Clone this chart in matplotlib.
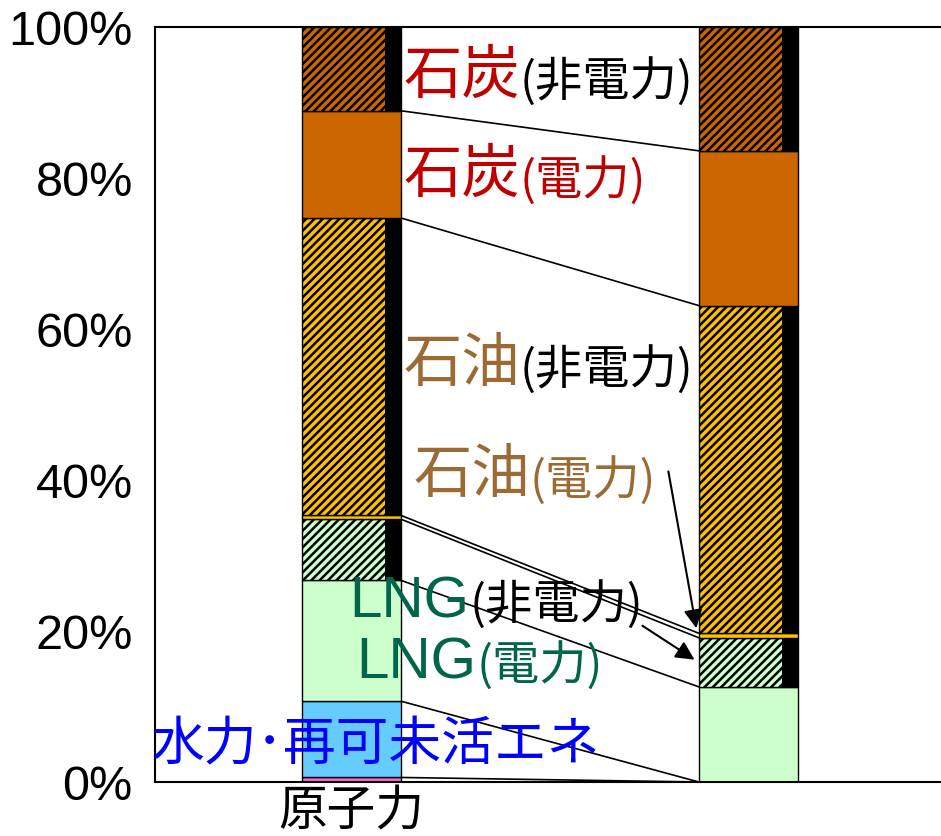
import matplotlib
matplotlib.use("Agg")
import matplotlib.pyplot as plt

plt.rcParams['font.family'] = ['Noto Sans CJK JP', 'DejaVu Sans']
plt.rcParams['hatch.linewidth'] = 1.8

# shares (%) of each block, bottom to top, for the two columns
segments = ['原子力', '水力・再可未活エネ', 'LNG(電力)', 'LNG(非電力)',
            '石油(電力)', '石油(非電力)', '石炭(電力)', '石炭(非電力)']
left_share = [0.6, 10.1, 16.0, 8.1, 0.5, 39.4, 14.2, 11.1]
right_share = [0.0, 0.0, 12.6, 6.5, 0.6, 43.4, 20.5, 16.4]

seg_colors = ['#FF66CC', '#66CCFF', '#CCFFCC', '#CCFFCC',
              '#FFC000', '#FFC000', '#CC6600', '#CC6600']
seg_hatch = [None, None, None, '////', None, '////', None, '////']
# non-power blocks carry a black strip on their right side
has_strip = [False, False, False, True, False, True, False, True]

bar_x = [0, 1]
bar_w = 0.25
strip_w = 0.04

fig = plt.figure(figsize=(9.41, 8.37), dpi=100)
ax = fig.add_axes([155 / 941, 1 - 783 / 837, 1 - 155 / 941, (783 - 28) / 837])

tops = []
for xpos, shares in zip(bar_x, [left_share, right_share]):
    bottom = 0.0
    col_tops = []
    for i, val in enumerate(shares):
        if val > 0:
            ax.bar(xpos, val, bar_w, bottom=bottom, color=seg_colors[i],
                   edgecolor='black', linewidth=1.0, hatch=seg_hatch[i], zorder=2)
            if has_strip[i]:
                ax.bar(xpos + bar_w / 2 - strip_w / 2, val, strip_w, bottom=bottom,
                       color='black', linewidth=0, zorder=3)
        bottom += val
        col_tops.append(bottom)
    tops.append(col_tops)

# connecting lines between block boundaries
for lt, rt in zip(tops[0][:-1], tops[1][:-1]):
    ax.plot([bar_x[0] + bar_w / 2, bar_x[1] - bar_w / 2], [lt, rt],
            color='black', linewidth=1.2, zorder=1)

ax.set_xlim(-0.495, 1.485)
ax.set_ylim(0, 100)
ax.set_yticks([0, 20, 40, 60, 80, 100])
ax.set_yticklabels([f'{v}%' for v in [0, 20, 40, 60, 80, 100]],
                   family=['Liberation Sans', 'DejaVu Sans'], fontsize=35)
ax.tick_params(axis='y', length=0, pad=16)
ax.set_xticks([])
for s in ['left', 'top', 'bottom']:
    ax.spines[s].set_linewidth(1.5)
ax.spines['right'].set_visible(False)

red = '#C00000'
brown = '#9C6A33'
green = '#00664A'


def label(x, y, big, small, big_color, small_color, big_family=None):
    fam = big_family if big_family else ['Noto Sans CJK JP', 'DejaVu Sans']
    t = ax.text(x, y, big, color=big_color, fontsize=42, family=fam,
                va='center', ha='left', clip_on=False, zorder=5)
    ax.annotate(small, xy=(1, 0), xycoords=t, color=small_color, fontsize=34,
                va='bottom', ha='left', annotation_clip=False, zorder=5)


label(0.13, 93.6, '石炭', '(非電力)', red, 'black')
label(0.13, 80.5, '石炭', '(電力)', red, red)
label(0.13, 55.4, '石油', '(非電力)', brown, 'black')
label(0.155, 40.7, '石油', '(電力)', brown, brown)
label(-0.005, 23.9, 'LNG', '(非電力)', green, 'black', ['Liberation Sans'])
label(0.012, 15.8, 'LNG', '(電力)', green, green, ['Liberation Sans'])

ax.text(-0.503, 5.1, '水力･再可未活エネ', color='#0000FF', fontsize=38,
        va='center', ha='left', clip_on=False, zorder=5)
ax.text(0, -3.8, '原子力', color='black', fontsize=35,
        va='center', ha='center', clip_on=False)

arrow = dict(arrowstyle='-|>', color='black', lw=1.5, mutation_scale=28)
ax.annotate('', xy=(0.870, 20.0), xytext=(0.797, 41.5), arrowprops=arrow,
            zorder=6)
ax.annotate('', xy=(0.870, 16.0), xytext=(0.727, 20.9), arrowprops=arrow,
            zorder=6)

fig.savefig('out.png', dpi=100)
